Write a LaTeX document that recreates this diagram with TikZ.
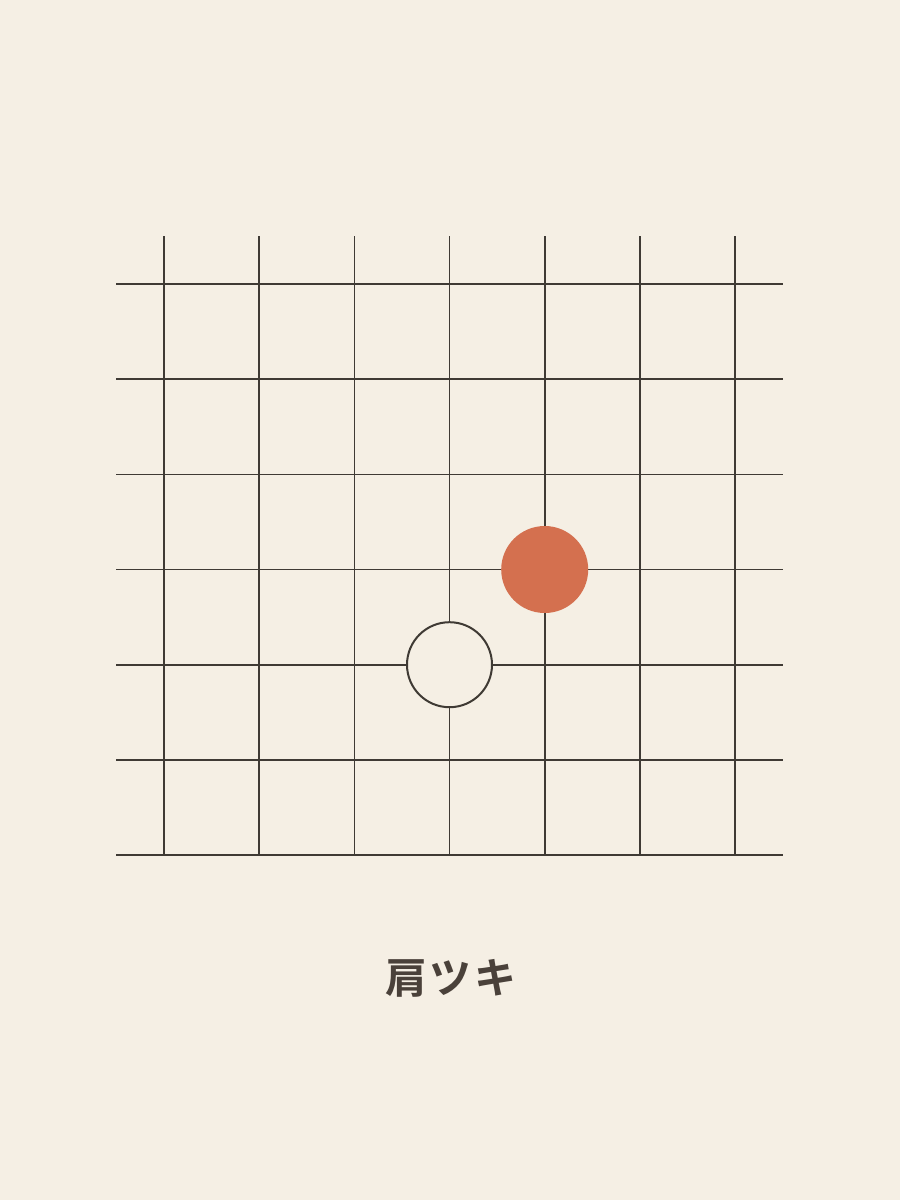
\documentclass[tikz,border=0pt]{standalone}
\usepackage{xcolor}
\usepackage{fontspec}
\newfontfamily\cjk{Noto Sans CJK JP}[BoldFont={Noto Sans CJK JP Bold},LetterSpace=6]
\definecolor{paper}{HTML}{F5EFE4}
\definecolor{ink}{HTML}{3F3A34}
\definecolor{stone}{HTML}{D4704F}
\definecolor{caption}{HTML}{4A413A}

\begin{document}
\begin{tikzpicture}[x=1pt,y=-1pt]
        \fill[paper] (0,0) rectangle (900,1200);
        \useasboundingbox (0,0) rectangle (900,1200);
        %
        \draw[ink,line width=1.6pt] (164,236) -- (164,855);
        \draw[ink,line width=1.6pt] (259.2,236) -- (259.2,855);
        \draw[ink,line width=1.6pt] (354.3,236) -- (354.3,855);
        \draw[ink,line width=1.6pt] (449.5,236) -- (449.5,855);
        \draw[ink,line width=1.6pt] (544.7,236) -- (544.7,855);
        \draw[ink,line width=1.6pt] (639.8,236) -- (639.8,855);
        \draw[ink,line width=1.6pt] (735,236) -- (735,855);
        %
        \draw[ink,line width=1.6pt] (116,284) -- (783,284);
        \draw[ink,line width=1.6pt] (116,379.2) -- (783,379.2);
        \draw[ink,line width=1.6pt] (116,474.3) -- (783,474.3);
        \draw[ink,line width=1.6pt] (116,569.5) -- (783,569.5);
        \draw[ink,line width=1.6pt] (116,664.7) -- (783,664.7);
        \draw[ink,line width=1.6pt] (116,759.8) -- (783,759.8);
        \draw[ink,line width=1.6pt] (116,855) -- (783,855);
        %
        \node[circle,fill=stone,minimum size=87pt,inner sep=0pt] (black) at (544.7,569.5) {};
        \node[circle,draw=ink,fill=paper,line width=2pt,minimum size=85pt,inner sep=0pt] (white) at (449.5,664.7) {};
        %
        \node[text=caption,font=\cjk\bfseries\fontsize{42}{50}\selectfont] (title) at (451,978) {肩ツキ};
    \end{tikzpicture}
\end{document}
